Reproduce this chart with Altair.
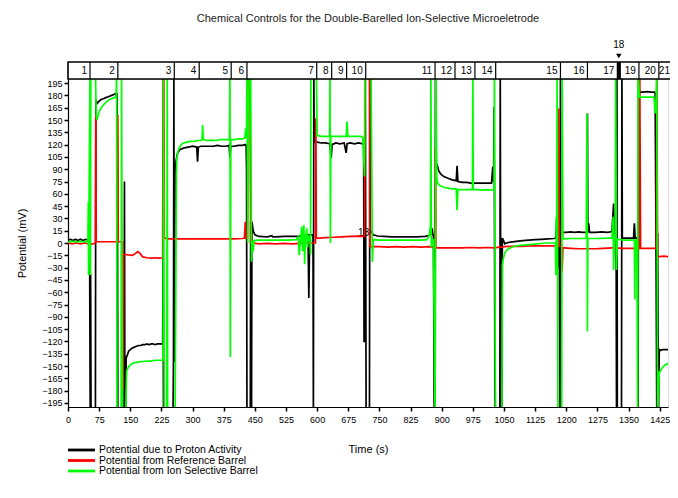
import altair as alt
import pandas as pd

TITLE = "Chemical Controls for the Double-Barelled Ion-Selective Microeletrode"
SERIES = ["Potential due to Proton Activity",
          "Potential from Reference Barrel",
          "Potential from Ion Selective Barrel"]
COLORS = ["#000000", "#ff0000", "#00ff00"]

X_TICKS = [0, 75, 150, 225, 300, 375, 450, 525, 600, 675, 750, 825, 900, 975,
           1050, 1125, 1200, 1275, 1350, 1425]
Y_TICKS = [-195, -180, -165, -150, -135, -120, -105, -90, -75, -60, -45, -30, -15,
           0, 15, 30, 45, 60, 75, 90, 105, 120, 135, 150, 165, 180, 195]

# segment bar (solution changes) : labels and end times (s)
SEG_LABELS = ["1", "2", "3", "4", "5", "6", "7", "8", "9", "10", "11", "12", "13",
              "14", "15", "16", "17", "18", "19", "20", "21"]
SEG_END = [53, 120, 256, 316, 393, 431, 599, 635, 671, 717, 884, 932, 980, 1030,
           1186, 1251, 1323, 1330, 1375, 1423, 1475]

# Black: potential due to proton activity
BLACK_T = [0, 6, 12, 18, 24, 30, 36, 42, 48, 52,
           53, 53.5, 54.5, 55.5, 66, 67,
           70, 75, 80, 85, 90, 95, 100, 105, 110, 114, 116,
           118, 119, 120, 135, 136, 137, 139, 140,
           142, 146, 150, 155, 160, 165, 170, 175, 180, 185, 190, 195, 200, 205, 210, 215, 220, 225, 228,
           229, 230, 253, 254, 255, 255.5, 256, 258, 260, 264,
           270, 280, 290, 300, 310, 312, 314, 320, 330, 340, 350, 360, 370, 380, 388, 390, 392, 400, 410, 420, 428,
           429, 430, 431, 439, 440, 441, 442, 443, 446, 450, 460, 480, 491, 493, 500, 520, 540, 560, 570, 578,
           580, 582, 590, 591, 592, 593, 594,
           600, 610, 620, 630, 634, 636, 645, 655, 665, 670, 672, 680, 690, 700, 710, 712,
           713, 715, 716, 718, 726, 727, 728,
           730, 735, 745, 760, 780, 800, 820, 840, 860, 870, 875, 877, 879,
           880, 881, 882, 884, 885, 887,
           889, 893, 898, 905, 915, 925, 935, 937, 939, 950, 960, 970, 980, 990, 1000, 1010, 1020, 1023, 1025, 1026, 1027,
           1028, 1029, 1040, 1041, 1042, 1043, 1045, 1046,
           1048, 1052, 1056, 1065, 1080, 1095, 1110, 1125, 1140, 1155, 1170, 1175, 1177, 1179, 1181,
           1182, 1183, 1185, 1186, 1187,
           1190, 1200, 1210, 1220, 1230, 1240, 1250, 1251, 1252, 1254, 1256, 1270, 1285, 1300, 1310, 1314, 1316, 1318,
           1320, 1321, 1322, 1323, 1333, 1334, 1335,
           1338, 1345, 1355, 1362, 1364, 1366, 1370, 1372,
           1373, 1374, 1376,
           1378, 1385, 1395, 1405, 1412, 1414,
           1416, 1418, 1420, 1422, 1424,
           1426, 1432, 1440, 1450, 1460]
BLACK_V = [3.5, 4.5, 3, 4.5, 3, 4.5, 3, 4.5, 3.5, 4,
           -145, -210, -38, -210, -210, 175,
           170, 173, 175, 176, 177, 178, 179, 180, 181, 182, 180,
           181, 95, -210, -210, 75, -210, -210, -140,
           -138, -132, -130, -128, -127, -126, -125, -125, -124, -124, -123, -124, -123, -123, -124, -123, -123, -123, -124,
           0, -210, -210, -145, 210, 0, -145, 85, 100, 110,
           114, 116, 117, 118, 117, 99, 117, 118, 118, 118, 118, 119, 118, 118, 119, 104, 118, 118, 119, 119, 120,
           119, 91, -210, -210, 26, -210, -210, 26, 15, 10, 8, 7.5, 9, 7.5, 7.5, 8, 8, 8, 9, 10,
           -67, 10, 10, -210, 210, 123, 123,
           123, 122, 122, 121, 104, 120, 122, 121, 122, 110, 121, 122, 121, 122, 121, 121,
           -120, -120, 210, -210, -210, 210, 12,
           14, 10, 8.5, 8, 7.5, 7.5, 7.5, 7.5, 8, 9, 14, 18, 10,
           10, -88, -210, -210, 210, 97,
           95, 88, 84, 81, 79, 77, 76, 94, 75, 74, 74, 73, 73, 73, 73, 73, 73, 93, 74, 166, 70,
           -158, -210, -210, 210, -47, -210, -210, 6,
           4, -1, 0, 1, 2, 3, 3.5, 4, 4.5, 5, 5.5, 6, 30, 6, 6,
           -30, 6, -210, 210, 14,
           13, 13, 13.5, 13, 13.5, 13, 13, 158, 13, 24, 13, 13, 13.5, 13, 14, 48, 12, 12,
           12, -210, 210, -210, -210, 210, 6,
           6, 6, 6, 6, 24, 6, 6, 6,
           -210, 210, 184,
           184, 184, 184.5, 184, 184, 183,
           12, -210, 12, -210, -130,
           -131, -130, -130, -130, -130]

# Red: potential from reference barrel
RED_T = [0, 10, 20, 30, 40, 50, 60, 66, 67, 68,
         70, 80, 90, 100, 110, 116,
         119, 120, 121, 132, 133, 134,
         137, 145, 155, 162, 168, 174, 180, 190, 200, 210, 220, 228,
         229, 231, 232,
         240, 260, 280, 300, 320, 340, 360, 380, 400, 420, 425, 427, 428,
         432, 434, 438, 440,
         445, 460, 480, 500, 520, 540, 560, 580, 590,
         596, 597, 598,
         605, 620, 640, 660, 680, 700, 712,
         714, 716, 726, 727,
         730, 750, 770, 790, 810, 830, 850, 870, 884,
         885, 886,
         890, 910, 930, 950, 970, 990, 1010, 1025, 1040, 1045,
         1050, 1070, 1090, 1110, 1130, 1150, 1170, 1180,
         1181, 1182, 1184, 1189, 1190, 1192,
         1195, 1210, 1230, 1250, 1270, 1290, 1310, 1320,
         1335, 1350, 1370,
         1376, 1377, 1379, 1390, 1400, 1410, 1417, 1418, 1420,
         1425, 1435, 1445, 1460]
RED_V = [0, -1, 0, -1, 0, -1, -1, 0, 156, 1.6,
         1.5, 1.5, 1.5, 1.5, 1.5, 1.5,
         1.5, 156, 1.5, 1.5, -179, -14,
         -14, -14.5, -15, -13, -10.5, -13, -17, -18, -18.5, -18, -18.5, -18,
         210, 210, 6,
         5, 5, 5, 5, 5, 5, 5, 5, 5, 5.5, 6, 26, 6,
         6, 210, 210, 0,
         0, -1, -0.5, -1, -0.5, -1, -0.5, 0, 0,
         0, 152, 6,
         6, 6.5, 7, 7.5, 8, 8.5, 8,
         8, 210, 210, -4.5,
         -4.5, -4.5, -5, -4.5, -5, -4.5, -5, -4.5, -5,
         117, -6,
         -6, -6, -6, -6, -5.5, -6, -5.5, -6, -5, -5,
         -4.5, -4, -4, -3.5, -3.5, -3.5, -3.5, -4,
         -4, 164, -4, -4, -35, -6,
         -6, -6.5, -7, -7, -7, -6.5, -6, -6,
         -6.5, -6.5, -6.5,
         -6.5, 210, -6.5, -6.5, -6.5, -6.5, -6.5, 210, -16.6,
         -16.6, -16, -16.6, -16.6]

# Green: potential from ion selective barrel
GREEN_T = [0, 10, 20, 30, 40, 48,
           49, 49.5, 53, 54, 55, 66, 68,
           70, 72, 75, 80, 85, 90, 95, 100, 105, 110, 114, 116,
           117, 118, 128, 129, 131, 139, 141,
           142, 146, 150, 155, 160, 165, 170, 180, 190, 200, 210, 220, 228,
           229, 230, 232, 238, 239, 240, 258, 261, 262,
           265, 270, 275, 285, 295, 305, 312, 320, 323, 324, 326, 335, 345, 355, 365, 375, 385, 389,
           390, 391, 392, 400, 410, 420, 426, 428, 430,
           431, 433, 436, 440, 442, 444,
           446, 448, 455, 470, 490, 510, 530, 550, 555, 557, 560, 563, 565, 568, 570, 572, 575, 577, 579, 581,
           583, 584, 585, 598, 600,
           602, 610, 620, 628, 630, 631, 632, 633, 640, 650, 660, 670, 672, 674, 685, 695, 705, 710,
           714, 715, 730, 733, 735,
           738, 750, 770, 790, 810, 830, 850, 865, 870, 872,
           873, 874, 875, 876, 880, 884, 886, 888,
           890, 895, 905, 915, 925, 935, 937, 939, 950, 960, 970, 974, 975, 976, 985, 995, 1005, 1015, 1025, 1026,
           1027, 1029, 1030, 1045, 1046, 1048, 1052, 1058, 1065, 1075, 1090, 1110, 1130, 1150, 1170, 1174, 1175, 1176, 1177,
           1178, 1180, 1189, 1190, 1192,
           1195, 1210, 1230, 1248, 1250, 1251, 1252, 1265, 1280, 1300, 1310, 1313, 1314, 1316,
           1318, 1319, 1321, 1323,
           1330, 1340, 1350, 1360, 1364, 1365, 1366, 1370,
           1372, 1373, 1376,
           1380, 1390, 1400, 1410, 1412, 1414, 1416,
           1418, 1420, 1424,
           1426, 1430, 1435, 1440, 1450, 1460]
GREEN_V = [1.5, 2, 1.5, 2, 1.5, 2,
           50, -39, 210, -39, 210, 210, 156,
           150, 155, 160, 165, 168, 171, 173, 175, 176, 177, 178, 179,
           210, -210, -210, 210, -210, -210, -158,
           -155, -151, -149, -147, -146, -145.5, -145, -144.5, -144, -144, -143, -143, -143,
           -143, 210, -210, -210, 210, -210, -210, 83, 103,
           112, 118, 121, 123, 124, 124, 125, 125, 126, 144, 126, 125, 125.5, 125, 126, 126, 126, 126,
           210, -139, 126, 126, 127, 127, 128, 140, 128,
           210, 0, 210, 210, -23, 3,
           -10, 3, 3.5, 3.5, 3.5, 3.5, 3.5, 4, 8, -15, 3, 20, -10, 22, -26, 5, 18, -5, 10, 3,
           3, -14, 210, 210, 131,
           131, 130, 130, 130, 130, 210, 0, 130, 130, 130, 130, 130, 148, 130, 130, 130, 130, 129,
           81, 210, 210, -23, 3,
           4, 3.5, 3.5, 3.5, 3.5, 3.5, 3.5, 4, 10, 18,
           18, 210, -5, 4, 4, -210, 210, 80,
           73, 70, 68, 67, 66, 66, 40, 65, 65, 65, 65, 65, 210, 65, 65, 64.5, 65, 64.5, 65, 65,
           210, -160, -210, -210, -27, -20, -12, -8, -6, -4, -3, -2, -1, 0, 0, 0, -39, 32, 0,
           210, -210, -210, 210, 5,
           5, 5.5, 5.5, 5.5, 158, -108, 5.5, 5.5, 5.5, 6, 6, 32, -33, 5,
           5, 210, -33, 5,
           4, 3.5, 3.5, 3.5, 3, -69, 3.5, 3.5,
           -210, 210, 178,
           178, 178, 178, 178, 175, 158, 170,
           210, -210, -157,
           -157, -153, -150, -148, -146, -146]

FONT = "Liberation Sans"
X_MAX = 1445
W, H = 600, 328

xscale = alt.Scale(domain=[0, X_MAX], nice=False, zero=False)
yscale = alt.Scale(domain=[-200, 200], nice=False, zero=False)

XAX = alt.Axis(values=X_TICKS, format="d", title="Time (s)", grid=False, labelFontSize=9,
               titleFontSize=11, titleFontWeight="normal", labelFont=FONT, titleFont=FONT,
               tickSize=4, tickWidth=1.5, domainColor="black", domainWidth=1.2, tickColor="black",
               labelColor="black", titleColor="black", labelPadding=4, titlePadding=19,
               labelFlush=False)
YAX = alt.Axis(values=Y_TICKS, format="d", title="Potential (mV)", grid=False, labelFontSize=9,
               titleFontSize=11, titleFontWeight="normal", labelFont=FONT, titleFont=FONT,
               tickSize=4, tickWidth=1.5, domainColor="black", domainWidth=1.2, tickColor="black",
               labelColor="black", titleColor="black", labelPadding=2, titlePadding=14,
               labelFlush=False)


def series_layer(T, V, color):
    df = pd.DataFrame({"t": T, "v": V, "i": list(range(len(T)))})
    return alt.Chart(df).mark_line(color=color, strokeWidth=1.7, clip=True).encode(
        x=alt.X("t:Q", scale=xscale, axis=XAX),
        y=alt.Y("v:Q", scale=yscale, axis=YAX),
        order=alt.Order("i:Q"),
    )


# small "18" annotation in the plot (drawn first, under the traces)
ann_df = pd.DataFrame({"t": [712], "v": [12], "label": ["18"]})
ann = alt.Chart(ann_df).mark_text(fontSize=10, font=FONT, color="black", align="center",
                                  baseline="middle").encode(
    x=alt.X("t:Q", scale=xscale, axis=XAX), y=alt.Y("v:Q", scale=yscale, axis=YAX),
    text="label:N")

# segment bar
bar_df = pd.DataFrame({"t0": [0], "t1": [SEG_END[-1]]})
bar_box = alt.Chart(bar_df).mark_rect(fill="white", stroke="black", strokeWidth=1.6).encode(
    x=alt.X("t0:Q", scale=xscale, axis=XAX), x2="t1:Q",
    y=alt.value(-17), y2=alt.value(0))

div_df = pd.DataFrame({"t": SEG_END[:-1]})
bar_div = alt.Chart(div_df).mark_rule(color="black", strokeWidth=1.2).encode(
    x=alt.X("t:Q", scale=xscale, axis=XAX), y=alt.value(-17), y2=alt.value(0))

seg18_df = pd.DataFrame({"t0": [SEG_END[16]], "t1": [SEG_END[17]]})
seg18 = alt.Chart(seg18_df).mark_rect(color="black").encode(
    x=alt.X("t0:Q", scale=xscale, axis=XAX), x2="t1:Q", y=alt.value(-17), y2=alt.value(0))

lab_df = pd.DataFrame({"label": [l for l in SEG_LABELS if l != "18"],
                       "t": [e for l, e in zip(SEG_LABELS, SEG_END) if l != "18"]})
lab_df.loc[lab_df["label"] == "21", "t"] = 1457
bar_lab = alt.Chart(lab_df).mark_text(align="right", baseline="middle", dx=-3, fontSize=10,
                                      font=FONT, color="black").encode(
    x=alt.X("t:Q", scale=xscale, axis=XAX), y=alt.value(-8), text="label:N")

mark18_df = pd.DataFrame({"t": [(SEG_END[16] + SEG_END[17]) / 2], "label": ["18"]})
mark18_txt = alt.Chart(mark18_df).mark_text(align="center", baseline="middle", fontSize=10,
                                            font=FONT, color="black").encode(
    x=alt.X("t:Q", scale=xscale, axis=XAX), y=alt.value(-34), text="label:N")
mark18_arrow = alt.Chart(mark18_df).mark_point(shape="triangle-down", filled=True, color="black",
                                               size=30, opacity=1).encode(
    x=alt.X("t:Q", scale=xscale, axis=XAX), y=alt.value(-23))

# manual legend
one = pd.DataFrame({"a": [0]})
legend_layers = []
for k, (name, col) in enumerate(zip(SERIES, COLORS)):
    yy = 371 + k * 10.5
    legend_layers.append(alt.Chart(one).mark_rule(color=col, strokeWidth=2.8).encode(
        x=alt.value(0), x2=alt.value(27), y=alt.value(yy)))
    legend_layers.append(alt.Chart(one).mark_text(align="left", baseline="middle", fontSize=10.5,
                                                  font=FONT, color="black", text=name).encode(
        x=alt.value(31), y=alt.value(yy)))

chart = alt.layer(
    ann,
    series_layer(BLACK_T, BLACK_V, COLORS[0]),
    series_layer(RED_T, RED_V, COLORS[1]),
    series_layer(GREEN_T, GREEN_V, COLORS[2]),
    bar_box, bar_div, seg18, bar_lab, mark18_txt, mark18_arrow,
    *legend_layers,
).properties(
    width=W, height=H,
    title=alt.TitleParams(TITLE, fontSize=11, font=FONT, fontWeight="normal", color="#222222",
                          anchor="middle", offset=16),
    autosize=alt.AutoSizeParams(type="none"),
    padding={"left": 60, "top": 71, "right": 2, "bottom": 70},
).configure_view(stroke=None).configure(background="white")

chart.save("out.html", embed_options={"renderer": "svg", "actions": False})
